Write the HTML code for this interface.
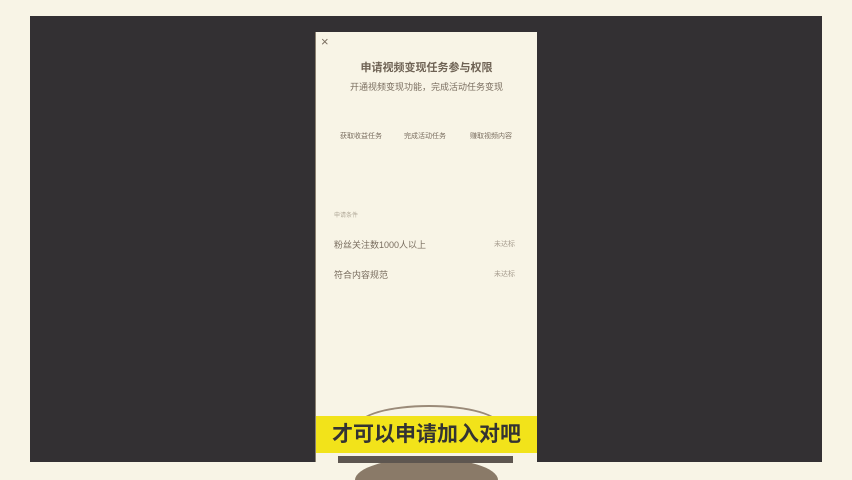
<!DOCTYPE html>
<html style="overflow:hidden;width:852px;height:480px"><head><meta charset="utf-8"><style>
body{margin:0;width:852px;height:480px;background:#f8f4e6;position:relative;overflow:hidden;font-family:"Liberation Sans","Noto Sans CJK SC",sans-serif}
div{position:absolute}
.t{color:#7a6e60;white-space:nowrap}
</style></head><body>
<div style="left:30px;top:16px;width:792px;height:446px;background:#333033"></div>
<div style="left:315px;top:32px;width:221px;height:430px;background:#f8f4e6;border-left:1px solid #8a8070">
 <div class="t" style="left:5px;top:2px;font-size:13px">×</div>
 <div class="t" style="left:0;width:221px;text-align:center;top:27px;font-size:11px;font-weight:bold;color:#6e6254">申请视频变现任务参与权限</div>
 <div class="t" style="left:0;width:221px;text-align:center;top:48px;font-size:9px">开通视频变现功能，完成活动任务变现</div>
 <div class="t" style="left:24px;top:99px;font-size:7px">获取收益任务</div>
 <div class="t" style="left:88px;top:99px;font-size:7px">完成活动任务</div>
 <div class="t" style="left:154px;top:99px;font-size:7px">赚取视频内容</div>
 <div class="t" style="left:18px;top:178px;font-size:6px;color:#b0a898">申请条件</div>
 <div class="t" style="left:18px;top:206px;font-size:9px">粉丝关注数1000人以上</div>
 <div class="t" style="left:178px;top:207px;font-size:7px;color:#a89e90">未达标</div>
 <div class="t" style="left:18px;top:236px;font-size:9px">符合内容规范</div>
 <div class="t" style="left:178px;top:237px;font-size:7px;color:#a89e90">未达标</div>
</div>
<div style="left:357px;top:405px;width:140px;height:40px;border:2px solid #9a8a78;border-radius:50%/50%;border-bottom:none"></div>
<div style="left:355px;top:458px;width:143px;height:22px;background:#8a7a68;border-radius:50% 50% 0 0/100% 100% 0 0"></div>
<div style="left:338px;top:456px;width:175px;height:7px;background:#5e5650"></div>
<div style="left:316px;top:416px;width:221px;height:37px;background:#f2e31a;color:#333;font-size:21px;font-weight:bold;text-align:center;line-height:37px">才可以申请加入对吧</div>
</body></html>
